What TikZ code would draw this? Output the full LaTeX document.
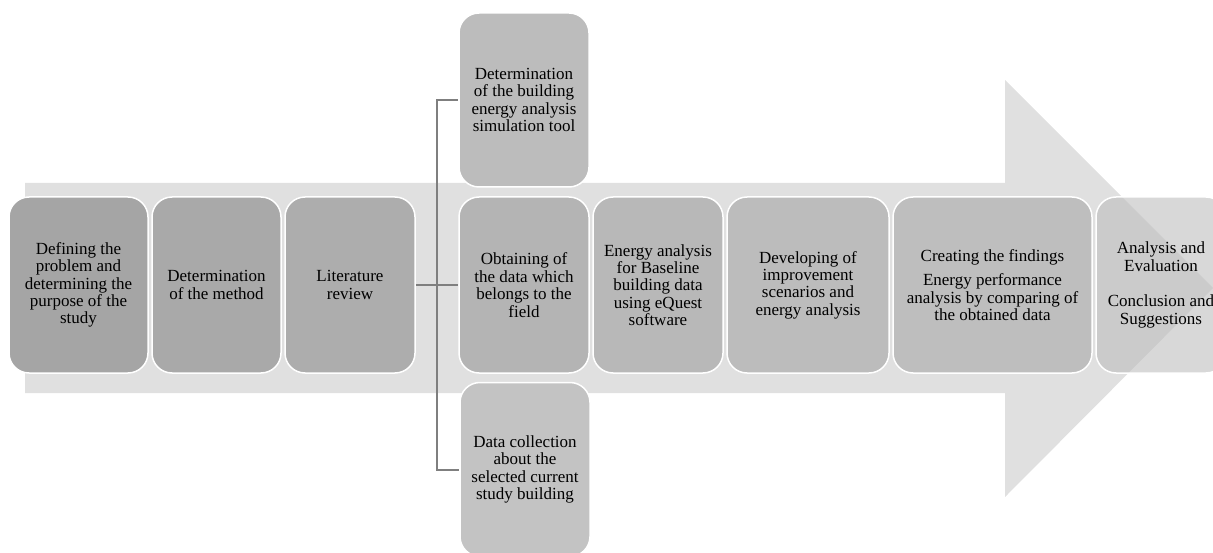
\documentclass[tikz,border=0pt]{standalone}
\usepackage{fontspec}
\setmainfont{Liberation Serif}
\usepackage{tikz}
\usetikzlibrary{positioning}

\definecolor{arrowgray}{HTML}{E0E0E0}
\definecolor{linkgray}{HTML}{7F7F7F}

\begin{document}
\begin{tikzpicture} [x=1pt, y=-1pt,
            align=center, font=\fontsize{17}{17.4}\selectfont]

            \tikzstyle{stage} = [rectangle, rounded corners=20pt, draw=white,
                line width=1.5pt, minimum height=176pt, inner sep=0pt]
            \tikzstyle{branch} = [stage, minimum height=174pt, minimum width=130pt]
            \tikzstyle{link} = [draw=linkgray, line width=2pt]

            \useasboundingbox (0, 0) rectangle (1213, 553);

            % big background arrow
            \fill[arrowgray] (25, 183) -- (1005, 183) -- (1005, 80) -- (1213, 288)
                -- (1005, 497) -- (1005, 393) -- (25, 393) -- cycle;

            \node[stage, fill={rgb,255:red,165;green,165;blue,165}, minimum width=139pt](stage_1) at(78.5, 285)
                {Defining the\\problem and\\determining the\\purpose of the\\study};
            \node[stage, fill={rgb,255:red,169;green,169;blue,169}, minimum width=129pt](stage_2) at(216.5, 285)
                {Determination\\of the method};
            \node[stage, fill={rgb,255:red,173;green,173;blue,173}, minimum width=130pt](stage_3) at(350, 285)
                {Literature\\review};
            \node[stage, fill={rgb,255:red,180;green,180;blue,180}, minimum width=130pt](stage_4) at(524, 285)
                {Obtaining of\\the data which\\belongs to the\\field};
            \node[branch, fill={rgb,255:red,188;green,188;blue,188}](tool) at(524, 100)
                {Determination\\of the building\\energy analysis\\simulation tool};
            \node[branch, fill={rgb,255:red,195;green,195;blue,195}](collect) at(525, 469.5)
                {Data collection\\about the\\selected current\\study building};
            \node[stage, fill={rgb,255:red,184;green,184;blue,184}, minimum width=130pt](stage_5) at(658, 285)
                {Energy analysis\\for Baseline\\building data\\using eQuest\\software};
            \node[stage, fill={rgb,255:red,188;green,188;blue,188}, minimum width=162pt](stage_6) at(808, 285)
                {Developing of\\improvement\\scenarios and\\energy analysis};
            \node[stage, fill={rgb,255:red,190;green,190;blue,190}, minimum width=199pt](stage_7) at(992.5, 285)
                {Creating the findings\\[7pt]Energy performance\\analysis by comparing of\\the obtained data};
            \node[stage, fill={rgb,255:red,190;green,190;blue,190}, fill opacity=0.6, text opacity=1,
                minimum width=130pt](stage_8) at(1161, 285)
                {Analysis and\\Evaluation\\[18pt]Conclusion and\\Suggestions};

            \coordinate (split) at(437, 285);

            \path[link] (stage_3) -- (split)
                (split) -- (stage_4)
                (split) |- (tool)
                (split) |- (collect)
            ;
       \end{tikzpicture}
\end{document}
